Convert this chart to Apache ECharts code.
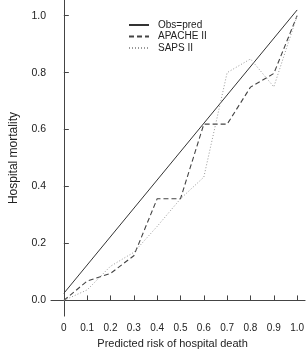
<!DOCTYPE html>
<html>
<head>
<meta charset="utf-8">
<script src="https://cdn.jsdelivr.net/npm/echarts@6/dist/echarts.min.js"></script>
<style>
  html, body { margin: 0; padding: 0; background: #fff; }
  #chart { width: 307px; height: 354px; }
</style>
</head>
<body>
<div id="chart"></div>
<script>
// data
var xTicks = [0, 0.1, 0.2, 0.3, 0.4, 0.5, 0.6, 0.7, 0.8, 0.9, 1.0];
var yTicks = [0, 0.2, 0.4, 0.6, 0.8, 1.0];
var riskX = [0, 0.1, 0.2, 0.3, 0.4, 0.5, 0.6, 0.7, 0.8, 0.9, 1.0];
var obsX = [0, 1.0];
var obsY = [0.025, 1.02];
var apache = [0, 0.068, 0.095, 0.157, 0.357, 0.357, 0.619, 0.619, 0.749, 0.797, 1.0];
var saps = [0, 0.037, 0.12, 0.169, 0.26, 0.357, 0.433, 0.80, 0.848, 0.75, 1.0];

function pairs(xs, ys) {
    var out = [];
    for (var i = 0; i < xs.length; i++) {
        out.push([xs[i], ys[i]]);
    }
    return out;
}

var chart = echarts.init(document.getElementById('chart'));
var font = 'Liberation Sans, Arial, sans-serif';

var option = {
    animation: false,
    backgroundColor: '#fff',
    textStyle: { fontFamily: font },
    grid: { left: 48, right: 0, top: 0, bottom: 36 },
    legend: {
        orient: 'vertical',
        left: 123,
        top: 15,
        itemWidth: 20,
        itemHeight: 12,
        itemGap: 1.5,
        itemStyle: { opacity: 0 },
        textStyle: { fontSize: 10, color: '#222', fontFamily: font, padding: [0, 0, 0, 4] },
        data: ['Obs=pred', 'APACHE II', 'SAPS II']
    },
    xAxis: {
        type: 'value',
        min: -0.055,
        max: 1.034,
        name: 'Predicted risk of hospital death',
        nameLocation: 'middle',
        nameGap: 20,
        nameTextStyle: { fontSize: 11, color: '#222', padding: [0, 11, 0, 0] },
        axisLine: { lineStyle: { color: '#444', width: 1 } },
        axisTick: { inside: true, length: 5, customValues: xTicks, lineStyle: { color: '#444' } },
        axisLabel: {
            customValues: xTicks,
            fontSize: 10,
            color: '#222',
            margin: 7,
            formatter: function (v) { return v === 0 ? '0' : v.toFixed(1); }
        },
        splitLine: { show: false }
    },
    yAxis: {
        type: 'value',
        min: -0.055,
        max: 1.055,
        name: 'Hospital mortality',
        nameLocation: 'middle',
        nameGap: 31,
        nameTextStyle: { fontSize: 12, color: '#222' },
        axisLine: { show: true, lineStyle: { color: '#444', width: 1 } },
        axisTick: { show: true, inside: true, length: 5, customValues: yTicks, lineStyle: { color: '#444' } },
        axisLabel: {
            customValues: yTicks,
            fontSize: 10.5,
            color: '#222',
            margin: 5,
            formatter: function (v) { return v.toFixed(1); }
        },
        splitLine: { show: false }
    },
    series: [
        {
            name: 'Obs=pred',
            type: 'line',
            symbol: 'none',
            lineStyle: { color: '#333', width: 1, type: 'solid' },
            itemStyle: { color: '#333' },
            data: pairs(obsX, obsY)
        },
        {
            name: 'APACHE II',
            type: 'line',
            symbol: 'none',
            lineStyle: { color: '#444', width: 1.1, type: [5, 3] },
            itemStyle: { color: '#444' },
            data: pairs(riskX, apache)
        },
        {
            name: 'SAPS II',
            type: 'line',
            symbol: 'none',
            lineStyle: { color: '#999', width: 1, type: [1, 2] },
            itemStyle: { color: '#999' },
            data: pairs(riskX, saps)
        }
    ]
};

chart.setOption(option);
</script>
</body>
</html>
